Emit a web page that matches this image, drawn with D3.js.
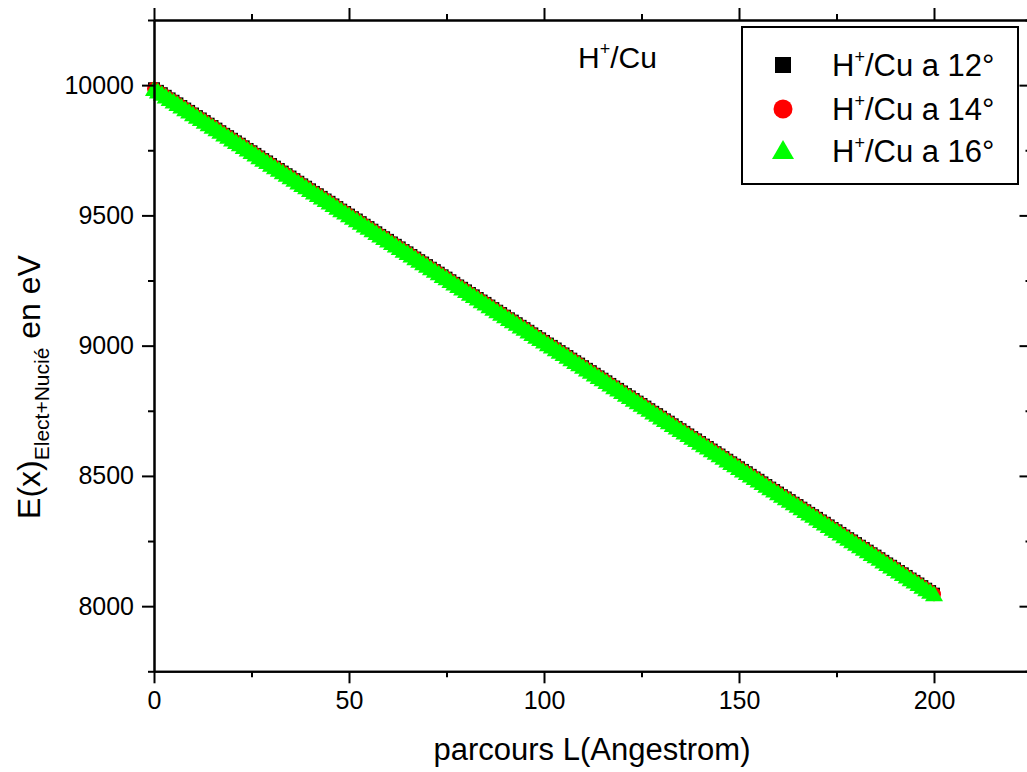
<!DOCTYPE html>
<html>
<head>
<meta charset="utf-8">
<script src="https://cdn.jsdelivr.net/npm/d3@7"></script>
<style>
  html, body { margin: 0; padding: 0; background: #fff; }
  svg { display: block; font-family: "Liberation Sans", Arial, sans-serif; }
</style>
</head>
<body>
<svg id="chart" width="1027" height="772"></svg>
<script>
// Path length L (Angstrom), one sample per Angstrom from 0 to 200
const pathL = d3.range(0, 201);

// Energy E(x) (eV) of H+ in Cu for three incidence angles
const energy12 = [
  9988,9978,9969,9959,9949,9940,9930,9920,9910,9901,
  9891,9881,9872,9862,9852,9843,9833,9823,9813,9804,
  9794,9784,9775,9765,9755,9746,9736,9726,9716,9707,
  9697,9687,9678,9668,9658,9649,9639,9629,9619,9610,
  9600,9590,9581,9571,9561,9552,9542,9532,9522,9513,
  9503,9493,9484,9474,9464,9455,9445,9435,9425,9416,
  9406,9396,9387,9377,9367,9358,9348,9338,9328,9319,
  9309,9299,9290,9280,9270,9261,9251,9241,9231,9222,
  9212,9202,9193,9183,9173,9164,9154,9144,9134,9125,
  9115,9105,9096,9086,9076,9067,9057,9047,9037,9028,
  9018,9008,8999,8989,8979,8970,8960,8950,8940,8931,
  8921,8911,8902,8892,8882,8873,8863,8853,8843,8834,
  8824,8814,8805,8795,8785,8776,8766,8756,8746,8737,
  8727,8717,8708,8698,8688,8679,8669,8659,8649,8640,
  8630,8620,8611,8601,8591,8582,8572,8562,8552,8543,
  8533,8523,8514,8504,8494,8485,8475,8465,8455,8446,
  8436,8426,8417,8407,8397,8388,8378,8368,8358,8349,
  8339,8329,8320,8310,8300,8291,8281,8271,8261,8252,
  8242,8232,8223,8213,8203,8194,8184,8174,8164,8155,
  8145,8135,8126,8116,8106,8097,8087,8077,8067,8058,
  8048
];
const energy14 = [
  9986,9976,9967,9957,9947,9938,9928,9918,9908,9899,
  9889,9879,9870,9860,9850,9841,9831,9821,9811,9802,
  9792,9782,9773,9763,9753,9744,9734,9724,9714,9705,
  9695,9685,9676,9666,9656,9647,9637,9627,9617,9608,
  9598,9588,9579,9569,9559,9550,9540,9530,9520,9511,
  9501,9491,9482,9472,9462,9453,9443,9433,9423,9414,
  9404,9394,9385,9375,9365,9356,9346,9336,9326,9317,
  9307,9297,9288,9278,9268,9259,9249,9239,9229,9220,
  9210,9200,9191,9181,9171,9162,9152,9142,9132,9123,
  9113,9103,9094,9084,9074,9065,9055,9045,9035,9026,
  9016,9006,8997,8987,8977,8968,8958,8948,8938,8929,
  8919,8909,8900,8890,8880,8871,8861,8851,8841,8832,
  8822,8812,8803,8793,8783,8774,8764,8754,8744,8735,
  8725,8715,8706,8696,8686,8677,8667,8657,8647,8638,
  8628,8618,8609,8599,8589,8580,8570,8560,8550,8541,
  8531,8521,8512,8502,8492,8483,8473,8463,8453,8444,
  8434,8424,8415,8405,8395,8386,8376,8366,8356,8347,
  8337,8327,8318,8308,8298,8289,8279,8269,8259,8250,
  8240,8230,8221,8211,8201,8192,8182,8172,8162,8153,
  8143,8133,8124,8114,8104,8095,8085,8075,8065,8056,
  8046
];
const energy16 = [
  9984,9974,9965,9955,9945,9936,9926,9916,9906,9897,
  9887,9877,9868,9858,9848,9839,9829,9819,9809,9800,
  9790,9780,9771,9761,9751,9742,9732,9722,9712,9703,
  9693,9683,9674,9664,9654,9645,9635,9625,9615,9606,
  9596,9586,9577,9567,9557,9548,9538,9528,9518,9509,
  9499,9489,9480,9470,9460,9451,9441,9431,9421,9412,
  9402,9392,9383,9373,9363,9354,9344,9334,9324,9315,
  9305,9295,9286,9276,9266,9257,9247,9237,9227,9218,
  9208,9198,9189,9179,9169,9160,9150,9140,9130,9121,
  9111,9101,9092,9082,9072,9063,9053,9043,9033,9024,
  9014,9004,8995,8985,8975,8966,8956,8946,8936,8927,
  8917,8907,8898,8888,8878,8869,8859,8849,8839,8830,
  8820,8810,8801,8791,8781,8772,8762,8752,8742,8733,
  8723,8713,8704,8694,8684,8675,8665,8655,8645,8636,
  8626,8616,8607,8597,8587,8578,8568,8558,8548,8539,
  8529,8519,8510,8500,8490,8481,8471,8461,8451,8442,
  8432,8422,8413,8403,8393,8384,8374,8364,8354,8345,
  8335,8325,8316,8306,8296,8287,8277,8267,8257,8248,
  8238,8228,8219,8209,8199,8190,8180,8170,8160,8151,
  8141,8131,8122,8112,8102,8093,8083,8073,8063,8054,
  8044
];

const angleLabels = ["12°", "14°", "16°"];
const xTicks = [0, 50, 100, 150, 200];
const xMinorTicks = [25, 75, 125, 175, 225];
const yTicks = [8000, 8500, 9000, 9500, 10000];
const yMinorTicks = [7750, 8250, 8750, 9250, 9750, 10250];

const svg = d3.select("#chart");

const x = d3.scaleLinear().domain([0, 225]).range([154, 1031.5]);
const y = d3.scaleLinear().domain([7750, 10250]).range([671.3, 20]);

const axisStroke = 2;
const majorLen = 12, minorLen = 6;

// ---- data markers (drawn first, frame on top) ----
const series = [
  { values: energy12, shape: "square", color: "#000000" },
  { values: energy14, shape: "circle", color: "#ff0000" },
  { values: energy16, shape: "triangle", color: "#00ff00" }
];

function markerPath(shape, s) {
  if (shape === "square") {
    return d3.symbol().type(d3.symbolSquare).size(s * s)();
  }
  if (shape === "circle") {
    return d3.symbol().type(d3.symbolCircle).size(Math.PI * (s / 2) * (s / 2))();
  }
  // upward triangle, width s, height 0.87 s, centred on point
  const h = s * 0.87;
  return `M0,${-h * 0.58}L${s / 2},${h * 0.42}L${-s / 2},${h * 0.42}Z`;
}

const plotSizes = { square: 12, circle: 14, triangle: 18 };

series.forEach(sr => {
  svg.append("g")
    .selectAll("path")
    .data(pathL.map((L, i) => [L, sr.values[i]]))
    .join("path")
    .attr("d", markerPath(sr.shape, plotSizes[sr.shape]))
    .attr("transform", d => `translate(${x(d[0])},${y(d[1])})`)
    .attr("fill", sr.color);
});

// ---- axes ----
function styleAxis(g) {
  g.select(".domain").attr("stroke", "#000").attr("stroke-width", axisStroke);
  g.selectAll(".tick line").attr("stroke", "#000").attr("stroke-width", axisStroke);
}
const tickFont = 25;

// bottom
const gBottom = svg.append("g").attr("transform", `translate(0,${y(7750)})`)
  .call(d3.axisBottom(x).tickValues(xTicks).tickSize(majorLen).tickPadding(8).tickSizeOuter(0));
styleAxis(gBottom);
gBottom.selectAll(".tick text").attr("font-size", tickFont).attr("fill", "#000")
  .attr("font-family", "Liberation Sans, Arial, sans-serif");
svg.append("g").attr("transform", `translate(0,${y(7750)})`)
  .call(d3.axisBottom(x).tickValues(xMinorTicks).tickSize(minorLen).tickFormat("").tickSizeOuter(0))
  .call(styleAxis);

// top
svg.append("g").attr("transform", `translate(0,${y(10250)})`)
  .call(d3.axisTop(x).tickValues(xTicks).tickSize(majorLen).tickFormat("").tickSizeOuter(0))
  .call(styleAxis);
svg.append("g").attr("transform", `translate(0,${y(10250)})`)
  .call(d3.axisTop(x).tickValues(xMinorTicks).tickSize(minorLen).tickFormat("").tickSizeOuter(0))
  .call(styleAxis);

// left
const gLeft = svg.append("g").attr("transform", `translate(${x(0)},0)`)
  .call(d3.axisLeft(y).tickValues(yTicks).tickSize(majorLen).tickPadding(8).tickSizeOuter(0)
    .tickFormat(d3.format("d")));
styleAxis(gLeft);
gLeft.selectAll(".tick text").attr("font-size", tickFont).attr("fill", "#000")
  .attr("font-family", "Liberation Sans, Arial, sans-serif");
svg.append("g").attr("transform", `translate(${x(0)},0)`)
  .call(d3.axisLeft(y).tickValues(yMinorTicks).tickSize(minorLen).tickFormat("").tickSizeOuter(0))
  .call(styleAxis);

// right (ticks pointing inward)
svg.append("g").attr("transform", `translate(${x(225)},0)`)
  .call(d3.axisLeft(y).tickValues(yTicks).tickSize(majorLen).tickFormat("").tickSizeOuter(0))
  .call(styleAxis);
svg.append("g").attr("transform", `translate(${x(225)},0)`)
  .call(d3.axisLeft(y).tickValues(yMinorTicks).tickSize(minorLen).tickFormat("").tickSizeOuter(0))
  .call(styleAxis);

// ---- axis titles ----
svg.append("text")
  .attr("x", 592)
  .attr("y", 760)
  .attr("text-anchor", "middle")
  .attr("font-size", 31)
  .text("parcours L(Angestrom)");

const yTitle = svg.append("text")
  .attr("transform", `translate(40,387) rotate(-90)`)
  .attr("text-anchor", "middle")
  .attr("font-size", 32);
yTitle.append("tspan").text("E(x)");
yTitle.append("tspan").attr("font-size", 21).attr("dy", 9).text("Elect+Nucié");
yTitle.append("tspan").attr("dy", -9).text(" en eV");

// ---- in-plot annotation ----
const note = svg.append("text").attr("x", 578).attr("y", 68).attr("font-size", 30);
note.append("tspan").text("H");
note.append("tspan").attr("font-size", 18).attr("dy", -13).text("+");
note.append("tspan").attr("dy", 13).text("/Cu");

// ---- legend ----
const legend = svg.append("g");
legend.append("rect")
  .attr("x", 742).attr("y", 27).attr("width", 276).attr("height", 157)
  .attr("fill", "#fff").attr("stroke", "#000").attr("stroke-width", 2);

const legendRowY = [65, 109, 151];
const legendSizes = { square: 16, circle: 19, triangle: 22 };
series.forEach((sr, i) => {
  legend.append("path")
    .attr("d", markerPath(sr.shape, legendSizes[sr.shape]))
    .attr("transform", `translate(783,${legendRowY[i]})`)
    .attr("fill", sr.color);
  const t = legend.append("text").attr("x", 832).attr("y", legendRowY[i] + 11).attr("font-size", 31);
  t.append("tspan").text("H");
  t.append("tspan").attr("font-size", 18).attr("dy", -13).text("+");
  t.append("tspan").attr("dy", 13).text("/Cu a " + angleLabels[i]);
});
</script>
</body>
</html>
